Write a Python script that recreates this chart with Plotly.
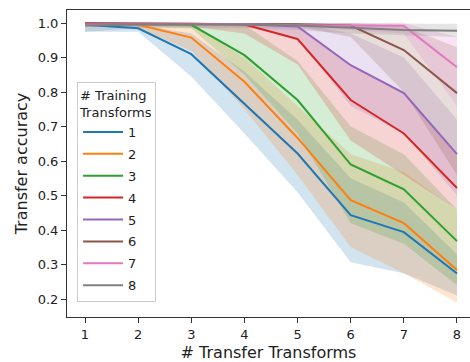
import plotly.graph_objects as go

x_vals = [1, 2, 3, 4, 5, 6, 7, 8]
series_names = ["1", "2", "3", "4", "5", "6", "7", "8"]
colors = ["#1f77b4", "#ff7f0e", "#2ca02c", "#d62728", "#9467bd", "#8c564b", "#e377c2", "#7f7f7f"]
fills = ["rgba(31,119,180,0.2)", "rgba(255,127,14,0.2)", "rgba(44,160,44,0.2)", "rgba(214,39,40,0.2)",
         "rgba(148,103,189,0.2)", "rgba(140,86,75,0.2)", "rgba(227,119,194,0.2)", "rgba(127,127,127,0.2)"]

mean_1 = [0.995, 0.985, 0.910, 0.765, 0.622, 0.443, 0.394, 0.274]
mean_2 = [0.998, 0.995, 0.958, 0.830, 0.667, 0.487, 0.420, 0.284]
mean_3 = [0.999, 0.998, 0.995, 0.907, 0.777, 0.590, 0.518, 0.368]
mean_4 = [0.999, 0.999, 0.998, 0.996, 0.954, 0.777, 0.680, 0.522]
mean_5 = [0.999, 0.999, 0.998, 0.997, 0.990, 0.878, 0.797, 0.620]
mean_6 = [0.999, 0.999, 0.999, 0.998, 0.997, 0.993, 0.922, 0.797]
mean_7 = [0.996, 0.997, 0.997, 0.997, 0.994, 0.993, 0.992, 0.872]
mean_8 = [0.993, 0.996, 0.996, 0.996, 0.993, 0.986, 0.980, 0.978]

low_1 = [0.975, 0.975, 0.845, 0.680, 0.510, 0.307, 0.275, 0.210]
high_1 = [1.000, 0.995, 0.970, 0.860, 0.720, 0.550, 0.480, 0.330]
low_2 = [0.990, 0.985, 0.920, 0.750, 0.560, 0.350, 0.275, 0.190]
high_2 = [1.000, 1.000, 0.995, 0.900, 0.760, 0.620, 0.568, 0.458]
low_3 = [0.995, 0.990, 0.985, 0.850, 0.680, 0.420, 0.360, 0.240]
high_3 = [1.000, 1.000, 1.000, 0.995, 0.890, 0.700, 0.620, 0.460]
low_4 = [0.995, 0.995, 0.990, 0.970, 0.880, 0.660, 0.560, 0.460]
high_4 = [1.000, 1.000, 1.000, 1.000, 0.995, 0.880, 0.800, 0.620]
low_5 = [0.995, 0.995, 0.995, 0.990, 0.960, 0.760, 0.680, 0.500]
high_5 = [1.000, 1.000, 1.000, 1.000, 1.000, 0.970, 0.900, 0.720]
low_6 = [0.995, 0.995, 0.995, 0.995, 0.990, 0.960, 0.800, 0.560]
high_6 = [1.000, 1.000, 1.000, 1.000, 1.000, 1.000, 0.990, 0.930]
low_7 = [0.990, 0.990, 0.990, 0.990, 0.985, 0.980, 0.970, 0.760]
high_7 = [1.000, 1.000, 1.000, 1.000, 1.000, 1.000, 1.000, 0.960]
low_8 = [0.975, 0.985, 0.985, 0.985, 0.980, 0.970, 0.965, 0.960]
high_8 = [1.000, 1.000, 1.000, 1.000, 1.000, 1.000, 0.998, 0.998]

means = [mean_1, mean_2, mean_3, mean_4, mean_5, mean_6, mean_7, mean_8]
lows = [low_1, low_2, low_3, low_4, low_5, low_6, low_7, low_8]
highs = [high_1, high_2, high_3, high_4, high_5, high_6, high_7, high_8]

fig = go.Figure()
for i in range(8):
    fig.add_trace(go.Scatter(
        x=x_vals + x_vals[::-1], y=highs[i] + lows[i][::-1],
        fill="toself", fillcolor=fills[i], line=dict(width=0),
        mode="lines", showlegend=False, hoverinfo="skip"))
for i in range(8):
    fig.add_trace(go.Scatter(
        x=x_vals, y=means[i], mode="lines", name=series_names[i],
        line=dict(color=colors[i], width=2), legendgroup=series_names[i]))

font = "DejaVu Sans, Arial, sans-serif"
fig.update_layout(
    width=470, height=362,
    margin=dict(l=67, r=0, t=10, b=45, autoexpand=False),
    paper_bgcolor="white", plot_bgcolor="white",
    font=dict(family=font, size=13, color="#222"),
    showlegend=True,
    legend=dict(
        title=dict(text="# Training<br>Transforms", font=dict(size=13)),
        x=0.025, y=0.765, xanchor="left", yanchor="top",
        bgcolor="rgba(255,255,255,0.8)", bordercolor="#ccc", borderwidth=1,
        tracegroupgap=2, itemwidth=40, font=dict(size=13)),
    xaxis=dict(
        range=[0.661, 8.245], tickmode="array", tickvals=x_vals,
        ticktext=[str(v) for v in x_vals], automargin=True,
        showline=True, linecolor="#333", linewidth=1, mirror=True,
        ticks="outside", ticklen=5, tickcolor="#333",
        showgrid=False, zeroline=False,
        title=dict(text="# Transfer Transforms", standoff=6)),
    yaxis=dict(
        range=[0.148, 1.038], tickmode="array", automargin=True,
        tickvals=[0.2, 0.3, 0.4, 0.5, 0.6, 0.7, 0.8, 0.9, 1.0],
        ticktext=["0.2", "0.3", "0.4", "0.5", "0.6", "0.7", "0.8", "0.9", "1.0"],
        showline=True, linecolor="#333", linewidth=1, mirror=False,
        ticks="outside", ticklen=5, tickcolor="#333",
        showgrid=False, zeroline=False,
        title=dict(text="Transfer accuracy", standoff=6)),
)
fig.write_html("out.html", config={"displayModeBar": False},
               post_script="document.body.style.margin='0px';")
